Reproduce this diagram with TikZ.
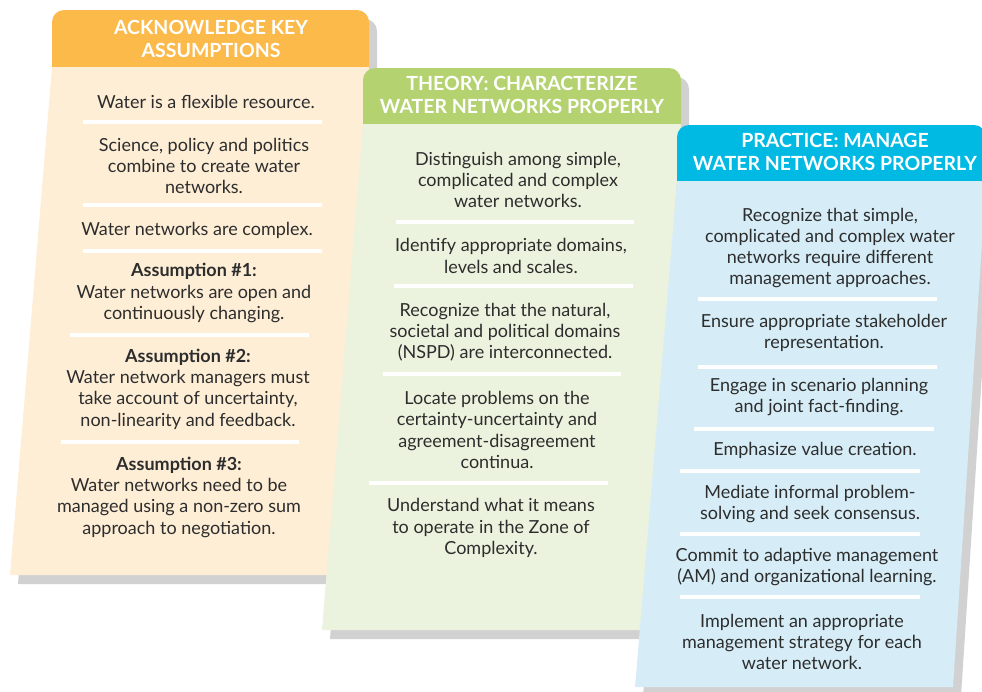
\documentclass[tikz,border=0pt]{standalone}
\usepackage{fontspec}
\setmainfont{Lato}
\usepackage{tikz}
\usetikzlibrary{shadows}
\definecolor{orangehead}{RGB}{252,186,74}
\definecolor{orangebody}{RGB}{254,238,214}
\definecolor{greenhead}{RGB}{180,211,112}
\definecolor{greenbody}{RGB}{235,243,222}
\definecolor{bluehead}{RGB}{0,186,228}
\definecolor{bluebody}{RGB}{214,237,247}
\definecolor{inktext}{RGB}{45,45,45}
\tikzset{
  head/.style={rounded corners=12pt},
  panelshadow/.style={drop shadow={shadow xshift=8pt,shadow yshift=-9pt,opacity=.3,fill=black!60}},
  headtext/.style={text=white,font=\bfseries\fontsize{19.5}{23.5}\selectfont,align=center},
  item/.style={text=inktext,font=\fontsize{18}{21.3}\selectfont,align=center},
  divider/.style={white,line width=3.5pt},
}
\begin{document}
\begin{tikzpicture}[x=1pt,y=-1pt]     % three slanted panels
    \clip (0,0) rectangle (982,691);

    % panels, back to front
    \fill[orangehead,head,panelshadow] (52,10) rectangle (369,95);
    \fill[orangebody,panelshadow] (52,67) -- (369,67) -- (340,575) -- (10,575) -- cycle;
    \fill[greenhead,head,panelshadow] (363,68) rectangle (681,150);
    \fill[greenbody,panelshadow] (363,124) -- (681,124) -- (645,630) -- (322,630) -- cycle;
    \fill[bluehead,head,panelshadow] (677,125) rectangle (986,210);
    \fill[bluebody,panelshadow] (677,181) -- (986,181) -- (953,687) -- (635,687) -- cycle;

    % headers
    \node[headtext] at (211,39) (hA) {ACKNOWLEDGE KEY\\ASSUMPTIONS};
    \node[headtext] at (522,95) (hB) {THEORY: CHARACTERIZE\\WATER NETWORKS PROPERLY};
    \node[headtext] at (835,152) (hC) {PRACTICE: MANAGE\\WATER NETWORKS PROPERLY};

    % assumptions
    \node[item] at (206,102) (a1) {Water is a flexible resource.};
    \node[item] at (204,166) (a2) {Science, policy and politics\\combine to create water\\networks.};
    \node[item] at (197,230) (a3) {Water networks are complex.};
    \node[item] at (194,293) (a4) {\textbf{Assumption \#1:}\\Water networks are open and\\continuously changing.};
    \node[item] at (188,389) (a5) {\textbf{Assumption \#2:}\\Water network managers must\\take account of uncertainty,\\non-linearity and feedback.};
    \node[item] at (179,497) (a6) {\textbf{Assumption \#3:}\\Water networks need to be\\managed using a non-zero sum\\approach to negotiation.};
    \draw[divider] (83,122) -- (322,122);
    \draw[divider] (83,205) -- (322,205);
    \draw[divider] (83,251) -- (322,251);
    \draw[divider] (70,335) -- (309,335);
    \draw[divider] (61,442) -- (299,442);

    % theory
    \node[item] at (518,180) (b1) {Distinguish among simple,\\complicated and complex\\water networks.};
    \node[item] at (511,256) (b2) {Identify appropriate domains,\\levels and scales.};
    \node[item] at (505,332) (b3) {Recognize that the natural,\\societal and political domains\\(NSPD) are interconnected.};
    \node[item] at (497,430) (b4) {Locate problems on the\\certainty-uncertainty and\\agreement-disagreement\\continua.};
    \node[item] at (491,528) (b5) {Understand what it means\\to operate in the Zone of\\Complexity.};
    \draw[divider] (396,222) -- (634,222);
    \draw[divider] (394,286) -- (633,286);
    \draw[divider] (383,374) -- (621,374);
    \draw[divider] (369,483) -- (608,483);

    % practice
    \node[item] at (830,248) (c1) {Recognize that simple,\\complicated and complex water\\networks require different\\management approaches.};
    \node[item] at (824,333) (c2) {Ensure appropriate stakeholder\\representation.};
    \node[item] at (819,397) (c3) {Engage in scenario planning\\and joint fact-finding.};
    \node[item] at (815,450) (c4) {Emphasize value creation.};
    \node[item] at (810,504) (c5) {Mediate informal problem-\\solving and seek consensus.};
    \node[item] at (807,567) (c6) {Commit to adaptive management\\(AM) and organizational learning.};
    \node[item] at (802,642) (c7) {Implement an appropriate\\management strategy for each\\water network.};
    \draw[divider] (698,299) -- (937,299);
    \draw[divider] (698,367) -- (937,367);
    \draw[divider] (694,429) -- (934,429);
    \draw[divider] (680,471) -- (920,471);
    \draw[divider] (680,534) -- (920,534);
    \draw[divider] (680,597) -- (920,597);
\end{tikzpicture}
\end{document}
